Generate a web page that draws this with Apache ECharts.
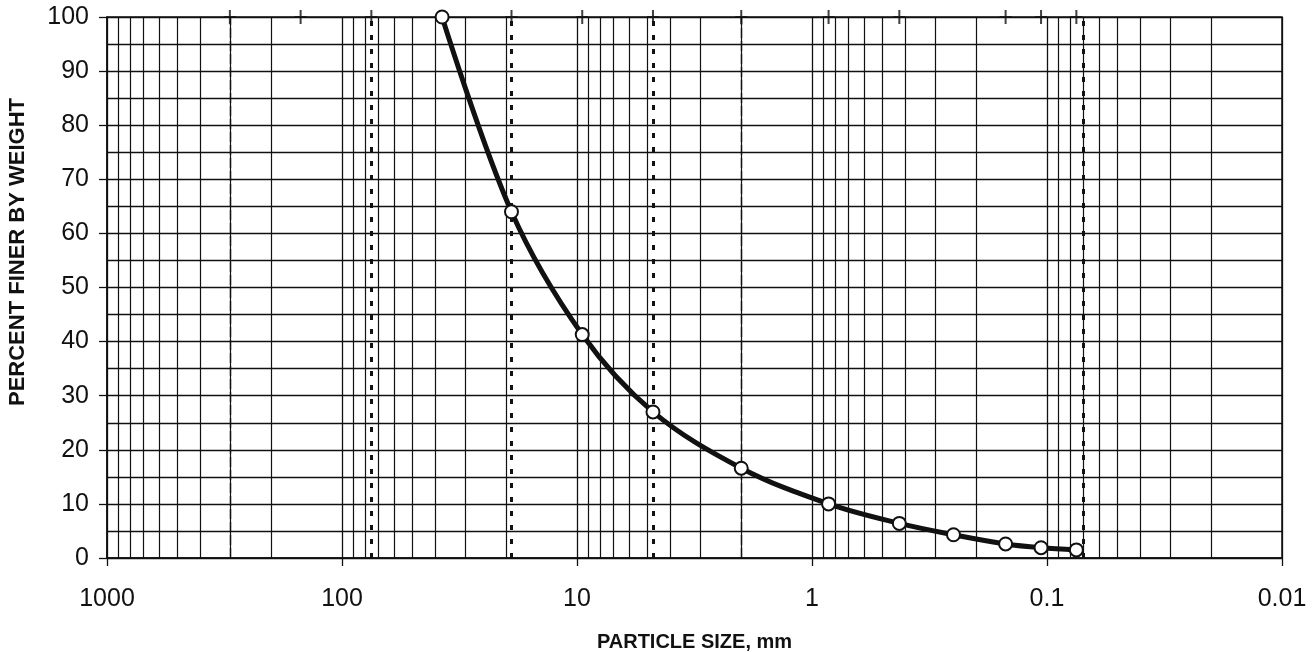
<!DOCTYPE html>
<html>
<head>
<meta charset="utf-8">
<title>Grain size distribution</title>
<script src="https://cdn.jsdelivr.net/npm/echarts@6/dist/echarts.min.js"></script>
<style>
	html, body { margin: 0; padding: 0; background: #fff; }
	#chart { width: 1316px; height: 652px; }
</style>
</head>
<body>
<div id="chart"></div>
<script>
	// sieve analysis
	var sizes = [37.5, 19, 9.5, 4.75, 2, 0.85, 0.425, 0.25, 0.15, 0.106, 0.075];
	var percentFiner = [100, 64, 41.3, 27, 16.6, 10, 6.4, 4.3, 2.6, 1.9, 1.5];

	// standard sieve marks along the top edge
	var sieveMarks = [300, 150, 75, 19, 9.5, 4.75, 2, 0.85, 0.425, 0.15, 0.106, 0.075];
	var dottedLines = [75, 19, 4.75, 0.075];
	var dashedLines = [300, 2];

	var xTickValues = [1000, 100, 10, 1, 0.1, 0.01];
	var xTickLabels = ['1000', '100', '10', '1', '0.1', '0.01'];
	var decades = [0.01, 0.1, 1, 10, 100];
	var minorSteps = [2, 3, 4, 5, 6, 7, 8, 9];

	var ink = '#111';
	var font = '"Liberation Sans", Arial, sans-serif';

	var minorLines = [];
	decades.forEach(function (d) {
		minorSteps.forEach(function (m) {
			minorLines.push(+(d * m).toPrecision(3));
		});
	});

	function vLines(list, style) {
		return {
			type: 'line',
			data: [],
			silent: true,
			markLine: {
				silent: true,
				animation: false,
				symbol: ['none', 'none'],
				label: { show: false },
				lineStyle: style,
				data: list.map(function (v) { return { xAxis: v }; })
			}
		};
	}

	var chart = echarts.init(document.getElementById('chart'));
	var option = {
		animation: false,
		backgroundColor: '#fff',
		textStyle: { fontFamily: font, color: ink },
		grid: {
			left: 107, right: 34, top: 17, bottom: 94,
			containLabel: false,
			outerBoundsMode: 'none',
			show: true,
			borderColor: ink,
			borderWidth: 1.5
		},
		graphic: [{
			type: 'text',
			x: 18,
			y: 252,
			rotation: Math.PI / 2,
			style: {
				text: 'PERCENT FINER BY WEIGHT',
				fontFamily: font,
				fontWeight: 'bold',
				fontSize: 22,
				fill: ink,
				align: 'center',
				verticalAlign: 'middle'
			}
		}],
		xAxis: {
			type: 'log',
			logBase: 10,
			min: 0.01,
			max: 1000,
			inverse: true,
			name: 'PARTICLE SIZE, mm',
			nameLocation: 'middle',
			nameGap: 74,
			nameTextStyle: { fontFamily: font, fontWeight: 'bold', fontSize: 20, color: ink },
			axisLine: { show: true, lineStyle: { color: ink, width: 1.5 } },
			axisTick: { show: true, inside: false, length: 8, lineStyle: { color: ink, width: 1.3 } },
			axisLabel: {
				margin: 29,
				fontSize: 25,
				color: ink,
				fontFamily: font,
				formatter: function (v) {
					for (var i = 0; i < xTickValues.length; i++) {
						if (Math.abs(Math.log10(v) - Math.log10(xTickValues[i])) < 1e-6) return xTickLabels[i];
					}
					return '';
				}
			},
			splitLine: { show: true, lineStyle: { color: ink, width: 1.3 } },
			minorTick: { show: false },
			minorSplitLine: { show: false }
		},
		yAxis: {
			type: 'value',
			min: 0,
			max: 100,
			interval: 10,
			axisLine: { show: true, lineStyle: { color: ink, width: 1.5 } },
			axisTick: { show: true, inside: false, length: 8, lineStyle: { color: ink, width: 1.3 } },
			axisLabel: { margin: 18, fontSize: 25, color: ink, fontFamily: font },
			splitLine: { show: true, lineStyle: { color: ink, width: 1.3 } },
			minorTick: { show: false, splitNumber: 2 },
			minorSplitLine: { show: true, lineStyle: { color: ink, width: 1.3 } }
		},
		series: [
			vLines(minorLines, { color: ink, width: 1.2, type: 'solid' }),
			vLines(dashedLines, { color: ink, width: 1.4, type: [10, 3] }),
			vLines(dottedLines, { color: ink, width: 3, type: [5, 9] }),
			{
				type: 'scatter',
				silent: true,
				symbol: 'path://M5,0 h2 v6 h5 v2 h-5 v6 h-2 v-6 h-5 v-2 h5 z',
				symbolSize: [12, 14],
				itemStyle: { color: ink },
				data: sieveMarks.map(function (s) { return [s, 100]; }),
				z: 4
			},
			{
				type: 'line',
				smooth: 0.35,
				symbol: 'circle',
				symbolSize: 13,
				showSymbol: true,
				lineStyle: { color: ink, width: 5 },
				itemStyle: { color: '#fff', borderColor: ink, borderWidth: 2 },
				data: sizes.map(function (s, i) { return [s, percentFiner[i]]; }),
				z: 5
			}
		]
	};
	chart.setOption(option);
</script>
</body>
</html>
